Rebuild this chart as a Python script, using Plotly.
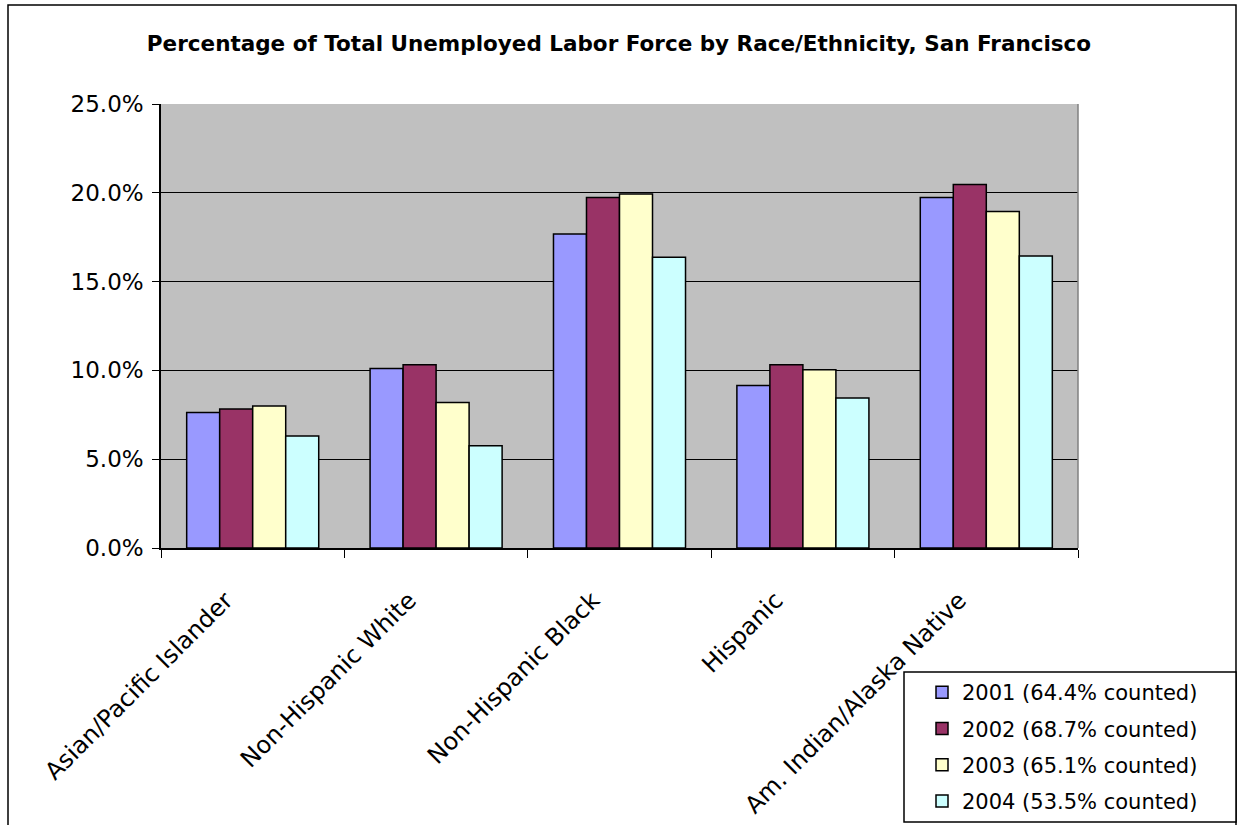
import plotly.graph_objects as go

categories = ["Asian/Pacific Islander", "Non-Hispanic White", "Non-Hispanic Black",
              "Hispanic", "Am. Indian/Alaska Native"]
series_names = ["2001 (64.4% counted)", "2002 (68.7% counted)",
                "2003 (65.1% counted)", "2004 (53.5% counted)"]
v2001 = [0.0763, 0.1011, 0.1768, 0.0915, 0.1974]
v2002 = [0.0782, 0.1032, 0.1974, 0.1032, 0.2047]
v2003 = [0.0800, 0.0819, 0.1993, 0.1004, 0.1895]
v2004 = [0.0631, 0.0576, 0.1637, 0.0844, 0.1644]
colors = ["#9999FF", "#993366", "#FFFFCC", "#CCFFFF"]

fig = go.Figure()
for i, (name, vals) in enumerate(zip(series_names, [v2001, v2002, v2003, v2004])):
    fig.add_trace(go.Bar(
        x=categories, y=vals, name=name, legendgroup=f"g{i}",
        marker=dict(color=colors[i], line=dict(color="black", width=1.5)),
    ))

W, H = 1238, 825
L, R, T, B = 161, 1078, 104, 548
PW, PH = R - L, B - T


def px(x):
    return (x - L) / PW


def py(y):
    return (B - y) / PH


fig.update_layout(
    width=W, height=H,
    margin=dict(l=L, r=W - R, t=T, b=H - B, autoexpand=False),
    paper_bgcolor="white",
    plot_bgcolor="#C0C0C0",
    barmode="group", bargap=0.28, bargroupgap=0,
    font=dict(family="DejaVu Sans", color="black", size=18),
    title=dict(text="<b>Percentage of Total Unemployed Labor Force by Race/Ethnicity, San Francisco</b>",
               x=0.5, xanchor="center", y=1 - 43 / H, yanchor="middle",
               font=dict(family="DejaVu Sans", size=21.5, color="black")),
    legend=dict(x=px(922), xanchor="left",
                y=py(672), yanchor="top",
                bgcolor="rgba(0,0,0,0)", borderwidth=0,
                font=dict(size=21), tracegroupgap=6,
                traceorder="grouped"),
    showlegend=True,
)
ticktext = [c + "\u00a0" * 5 for c in categories]
fig.update_xaxes(
    type="category", tickson="boundaries", ticks="outside", ticklen=8,
    tickcolor="black", showline=True, linecolor="black", linewidth=1.5,
    tickangle=-45, tickfont=dict(size=24), showgrid=False, automargin=False,
    tickmode="array", tickvals=categories, ticktext=ticktext,
)
fig.update_yaxes(
    range=[0, 0.25], dtick=0.05, tickformat=".1%", ticks="outside", ticklen=7,
    tickcolor="black", showline=True, linecolor="black", linewidth=1.5,
    showgrid=True, gridcolor="black", gridwidth=1, zeroline=False,
    tickfont=dict(size=23), automargin=False, ticklabelstandoff=4,
)
# right edge of plot area
fig.add_shape(type="line", xref="paper", yref="paper", x0=1, x1=1, y0=0, y1=1,
              line=dict(color="#808080", width=1.5))
# outer chart border
fig.add_shape(type="rect", xref="paper", yref="paper",
              x0=px(8), x1=px(1236), y0=py(900), y1=py(5),
              line=dict(color="black", width=1.5), fillcolor="rgba(0,0,0,0)", layer="below")
# legend box
fig.add_shape(type="rect", xref="paper", yref="paper",
              x0=px(904), x1=px(1236), y0=py(822), y1=py(672),
              line=dict(color="black", width=1.5), fillcolor="white", layer="below")

fig.write_html("out.html", config={"displayModeBar": False},
               post_script="document.body.style.margin='0';")
